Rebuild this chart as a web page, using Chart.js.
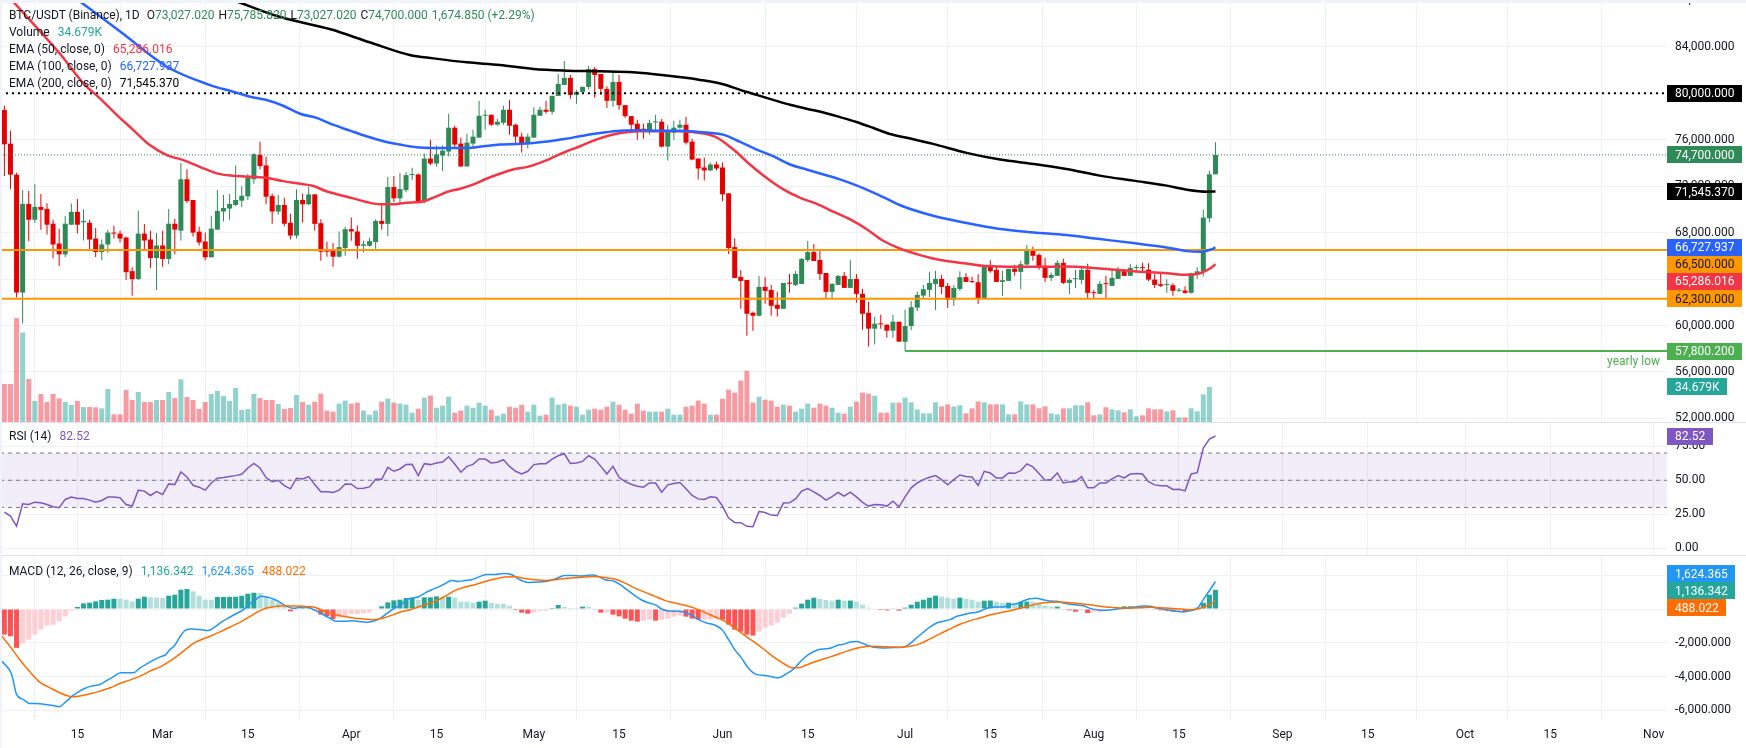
<!DOCTYPE html>
<html>
<head>
<meta charset="utf-8">
<title>BTC/USDT (Binance), 1D</title>
<script src="https://cdn.jsdelivr.net/npm/chart.js"></script>
<style>
html,body{margin:0;padding:0;background:#ffffff;overflow:hidden;}
#wrap{position:relative;width:1746px;height:748px;overflow:hidden;background:#fff;font-family:Roboto,"Liberation Sans",Arial,sans-serif;}
#wrap canvas{position:absolute;left:0;}
.lg{position:absolute;left:9px;font-size:12px;line-height:17px;color:#131722;white-space:nowrap;}
.lg .v{margin-left:8px;}
.lg .g{margin-left:4px;}
.sep{position:absolute;left:0;width:1746px;height:1px;background:#E0E3EB;}
</style>
</head>
<body>
<div id="wrap">
  <canvas id="cPrice" width="1746" height="423" style="top:0px"></canvas>
  <canvas id="cRsi" width="1746" height="133" style="top:423px"></canvas>
  <canvas id="cMacd" width="1746" height="192" style="top:556px"></canvas>
  <div class="sep" style="top:422px"></div>
  <div class="sep" style="top:555px"></div>
  <div style="position:absolute;top:0;left:0;width:1746px;height:3px;background:#F0F3FA"></div>
  <div style="position:absolute;top:0;left:0;width:2px;height:748px;background:#F0F3FA"></div>
  <div class="lg" id="lgPrice" style="top:7px"></div>
  <div class="lg" id="lgRsi" style="top:428px"></div>
  <div class="lg" id="lgMacd" style="top:563px"></div>
</div>
<script>
// ---------------- DATA ----------------
const startDay = -26;           // day offset (from Mar 1) of first candle
const tickDays = [-14,0,14,31,45,61,75,92,106,122,136,153,167,184,198,214,228,245];
const tickLabels = ['15','Mar','15','Apr','15','May','15','Jun','15','Jul','15','Aug','15','Sep','15','Oct','15','Nov'];
const priceTicks = [52000,56000,60000,64000,68000,72000,76000,80000,84000,88000];
const rsiTicks = [0,25,50,75];
const macdTicks = [-6000,-4000,-2000,0,2000];

const opens = [78562,75667,73000,62839,70473,69111,70218,70048,68770,67068,
66131,68685,69792,68900,68856,67493,66330,66982,68004,67919,
67578,64684,64003,67919,67408,65819,66897,65734,68770,68174,
72602,70814,68089,67238,65876,68260,69820,70076,70388,70757,
71126,72602,74702,73794,71154,69820,70388,68856,67749,70814,
70443,71300,68814,66443,66443,65929,66671,68300,68100,66871,
66871,67186,69014,68757,71929,70957,71671,72957,73014,70643,
74386,73957,74643,74986,77043,75671,73700,75671,76186,78071,
78157,77300,77471,78586,77300,76271,75671,76186,78071,78586,
78414,79786,80729,81329,79871,80129,80557,82100,81671,80386,
79357,80986,78986,78043,77386,76957,76700,77500,77557,75414,
76614,77043,77300,75843,74386,73614,73357,73871,73614,71386,
66757,64186,63929,61100,60843,63329,63071,61786,61443,63700,
63500,63586,65643,66329,65643,64529,62900,63500,64271,63243,
64014,62729,61100,59729,60157,60071,59557,60329,58600,59960,
61543,62580,63070,63587,64019,63414,62205,63155,64163,63780,
63731,62291,65055,64796,63760,63846,64883,64624,65257,66581,
66092,65142,64105,64278,65401,63673,63990,63932,64796,62840,
62723,63620,63414,64019,64681,64278,64950,64990,64814,63957,
63557,63486,63471,63000,63014,62814,64414,64671,69243,73027.02];

const highs = [78959,76774,73169,71665,71580,72176,71325,70530,69111,68345,
69452,70502,70899,70019,69111,68401,67408,68260,68600,68174,
67663,65024,69877,68742,68174,67976,68174,70048,69196,73992,
73453,70814,68515,68004,69452,71665,71239,71325,73794,72006,
73056,74844,75837,74560,71381,71239,71012,69622,71750,71353,
71957,71300,69157,67243,67100,68100,68500,69300,68614,67300,
67557,69157,70357,72786,72871,73129,73214,73586,73100,74814,
76014,75500,75500,78243,77214,76186,76529,76871,79357,78586,
78157,77814,78929,79443,77386,76614,76529,78814,78843,79357,
79786,81671,82786,81586,80300,80600,82357,82271,81671,80614,
81929,81586,78986,78043,77729,77386,77729,78157,77786,77300,
77643,77729,77986,76100,74386,74471,74043,74129,74043,71386,
67529,64786,63929,61200,64271,64186,63500,62900,63671,64443,
64700,65814,67271,67014,66414,64529,63671,64357,64614,65643,
64443,63157,62043,60757,60929,60100,60929,60329,61357,62119,
62925,63501,64624,64710,64364,63673,63501,64681,64508,64192,
64422,65142,65631,65055,64710,64883,65228,65574,66927,66783,
66207,65833,64537,65631,65746,64076,64796,65142,65314,63069,
63846,64278,64883,65055,64854,65314,65228,65401,65357,64414,
64500,63986,63643,63243,63386,64557,65014,69986,73329,75785.82];

const lows = [72886,71750,62442,60171,67266,68827,68260,67834,65790,65138,
65904,68685,67919,67323,66557,65904,65620,66245,67493,67153,
63917,62555,63917,66557,64939,63066,65053,65280,66131,67323,
70558,67663,66897,65620,65876,68260,68969,69111,70303,70218,
70814,72205,73453,70445,68770,69537,68543,67408,67493,68884,
70386,68157,65586,65929,65071,65871,66014,67300,65757,66300,
66786,66614,68243,67700,70643,70529,71471,72529,70529,70529,
73814,73700,73300,74557,75243,73700,73700,75243,76186,76871,
77200,77214,77300,76443,75586,74900,75243,76186,78071,78243,
78157,79786,80700,79529,79100,80000,80329,79614,79871,78743,
78843,78586,77871,76786,76014,76100,76443,76786,75329,74214,
76014,76957,75586,74243,72586,72500,73300,73357,70700,66157,
64100,61443,59129,59557,60786,61871,60843,60786,61443,62814,
63414,63586,65471,65557,63929,62300,62300,63500,63243,63243,
61957,59643,58186,58357,59729,58957,58957,58614,57800.2,59614,
61255,62349,62464,61342,62723,61514,61687,62983,63760,63673,
61860,62291,64537,63760,62551,63846,64278,63155,65142,65574,
64796,63760,63846,64278,63587,62723,63242,63587,62378,62291,
62723,62291,63414,64019,64278,64278,64710,64624,63843,63243,
63329,62814,62557,62871,62729,62757,64014,64214,68900,73027.02];

const closes = [75610,73000,62839,70473,69111,70218,69962,68685,66982,66131,
68770,69792,68685,69000,67408,66330,66982,68004,67919,67493,
64599,64003,67919,67323,65819,66897,65734,68770,68260,72602,
70729,68004,67153,65876,68345,69877,70133,70473,70814,71183,
72715,74758,73737,71097,69820,70388,68770,67749,70814,70443,
71300,68757,66357,66357,65929,66757,68300,68100,66871,67000,
67271,69014,68757,71929,70957,71757,72957,73014,70643,74386,
73957,74729,75071,77043,75586,73700,75757,76271,78071,78157,
77300,77557,78586,77214,76271,75671,76271,78157,78586,78414,
79786,80814,81329,79871,80129,80557,82100,81586,80386,79357,
80986,78986,78043,77300,76871,76786,77443,77557,75414,76786,
77043,77300,75757,74300,73529,73357,73871,73529,71300,66671,
64100,63843,61014,60843,63329,62986,61700,61443,63671,63600,
64443,65729,66329,65557,64443,62900,63586,64271,63243,64014,
62729,61014,59729,60157,60100,59557,60329,58614,59960,61572,
62637,63127,63673,64019,63328,62205,63242,64163,63760,63740,
62291,65055,64681,63760,63904,64883,64624,65286,66581,66006,
65055,64105,64364,65401,63673,63932,64019,64796,62810,62780,
63587,63560,64105,64710,64278,64969,64990,64940,63957,63500,
63414,63514,62986,63043,62814,64500,64671,69300,73025.15,74700];

// volume in thousands (K)
const volumes = [37.5,37.5,101,87,42.3,21.2,27.9,20.2,27.9,23.7,
20.2,17.3,21.2,15.4,15.4,15.1,14.1,32.7,8.3,8.3,
31.7,22.1,29.8,20.2,20.2,22.1,22.1,29.8,24,42,
25,22.1,13.5,20.2,27.9,30.8,26,21.2,33.7,12.5,
13.5,27.9,24,22.1,22.1,18.3,13.5,14.4,26.9,20.2,
17.6,20.5,28.2,11.9,10.9,18.6,21.5,18.6,19.6,11.9,
8.0,11.9,20.5,23.4,19.6,18.6,17.6,9.9,13.8,24.4,
26.3,14.7,16.7,25.3,9.9,11.9,16.7,14.7,19.6,16.7,
12.8,7.1,9.0,15.7,14.7,17.6,10.9,17.6,7.1,8.0,
24.4,17.6,18.6,16.7,15.7,8.0,12.8,13.8,12.8,15.7,
20.5,17.6,12.8,9.0,18.6,11.9,10.9,10.9,10.9,13.8,
8.0,8.0,15.7,16.7,21.5,18.6,8.0,8.0,23.4,32.1,
29.2,40.7,50.3,19.6,25.3,22.4,21.5,15.7,17.6,16.7,
10.9,13.8,18.6,14.7,18.6,16.7,14.7,9.9,9.0,15.7,
20.5,29.2,28.2,26.3,9.9,9.9,19.6,19.6,24.4,19.9,
13.1,9.3,9.3,19.9,16.0,17.9,16.0,17.0,9.3,14.1,
20.8,19.9,17.9,17.9,17.9,8.3,8.3,20.8,17.9,17.9,
14.1,16.0,9.3,8.3,14.1,14.1,17.0,17.0,19.9,7.4,
8.3,15.1,13.1,12.2,10.3,13.1,6.4,7.4,14.1,13.1,
13.1,11.2,12.2,5.4,5.4,14.1,11.2,27.6,34.679,null];

const ema50Days = [-24.8,-16.7,-12.9,-10.3,-7.5,-4.8,-2.1,0.7,3.4,6.1,8.9,11.6,14.4,17.1,19.8,22.6,24.8,26.8,29.1,31.3,33.5,35.7,37.8,40.1,42.3,44.5,46.7,48.9,51.1,53.2,55.4,57.6,59.8,62.0,64.2,66.4,68.6,70.8,73.5,75.2,78.4,81.7,85.0,88.3,91.0,93.8,96.5,99.2,102.0,104.7,107.4,110.2,112.9,115.7,118.4,121.2,123.9,126.6,129.4,132.1,134.8,137.6,143.1,148.5,154.0,159.5,165.0,168.3,170.5,172.1,173];
const ema50Vals = [88043,83302,80800,79569,78129,76837,75543,74681,74250,73673,73104,72897,72811,72725,72440,72210,72014,71586,71243,70957,70643,70443,70443,70586,70643,71014,71500,71786,72157,72643,73071,73443,73643,74014,74500,75014,75443,75929,76386,76586,76729,76729,76729,76586,76214,75157,73871,72729,71729,71014,70500,69814,69157,68300,67300,66620,66150,65775,65516,65344,65142,65084,65055,65084,64912,64682,64509,64365,64509,64912,65286.016];
const ema100Days = [-13.9,-6.6,0.7,7.8,11.6,14.4,17.1,19.8,22.6,25.4,28.0,30.8,33.5,36.3,39.0,41.7,44.5,47.2,50.0,52.7,55.4,58.2,60.9,63.6,66.4,69.1,71.9,75.2,78.4,81.7,85.0,88.3,92.1,94.9,97.6,100.3,103.1,105.8,108.6,111.3,114.0,116.8,119.5,121.5,126.6,132.1,137.6,143.1,148.5,154.0,159.5,165.0,168.3,170.5,172.1,173];
const ema100Vals = [88043,85172,82293,80715,80138,79707,79422,78931,78243,77871,77300,76786,76300,75871,75586,75357,75300,75300,75300,75443,75586,75643,75729,75871,76100,76357,76586,76786,76814,76786,76786,76671,76443,75814,75157,74586,73871,73443,73014,72586,72071,71443,70786,70300,69461,68827,68309,68021,67791,67446,67100,66726,66409,66351,66524,66727.937];
const ema200Days = [11.6,19.2,27.6,34.0,40.6,44.5,50.0,55.4,60.9,66.4,71.9,77.3,82.8,88.3,92.1,94.9,97.6,100.3,103.1,105.8,108.6,111.3,114.0,116.8,119.5,122.5,126.6,132.1,137.6,143.1,148.5,154.0,159.5,165.0,168.3,171.6,173];
const ema200Vals = [88043,86595,85517,84400,83300,83014,82671,82443,82100,81957,81900,81814,81529,81157,80786,80300,79871,79443,79014,78671,78357,77957,77529,77014,76500,76150,75650,74873,74297,73923,73491,72915,72483,72051,71706,71533,71545.37];

const levelDotted = 80000;
const levelRanges = [66500, 62300];

const rsiValues = [26.6,23.7,16.3,32.7,32.2,33.9,33.4,32.2,30.5,29.8,35.9,37.6,36.6,36.6,35.4,33.9,35.1,37.6,37.6,37.1,
32.2,31.0,42.7,42.0,38.8,41.7,39.5,47.3,46.8,56.1,52.4,46.3,44.9,42.7,48.0,51.5,52.0,52.7,53.4,54.4,
59.0,62.4,59.0,52.0,49.0,50.0,46.1,43.7,51.5,51.0,52.7,46.8,41.5,41.5,41.0,42.7,47.3,47.1,43.9,44.1,
45.1,50.7,50.7,59.5,56.6,58.3,61.5,61.7,53.4,62.2,61.5,62.7,63.4,67.3,62.0,55.9,60.2,61.7,65.6,65.6,
62.7,63.2,65.1,60.2,56.6,54.6,56.6,61.5,62.2,62.2,65.6,68.0,69.5,62.4,62.7,63.9,68.0,65.6,60.2,54.6,
60.2,52.2,49.0,47.1,45.6,44.9,48.0,48.0,41.2,46.6,47.6,48.3,43.7,38.8,36.3,35.9,37.8,37.3,31.0,22.2,
19.0,18.8,16.1,15.9,27.1,26.3,24.4,24.1,33.2,33.4,36.3,42.0,43.9,41.5,38.8,35.4,38.0,41.0,38.3,41.2,
37.8,33.7,31.0,32.2,32.0,31.0,34.6,30.5,37.8,44.4,48.0,50.5,52.2,53.4,50.5,46.6,50.5,53.9,52.7,52.4,
46.1,56.6,55.4,51.7,51.7,55.4,55.1,57.1,62.0,59.8,54.9,50.0,50.5,55.4,48.0,48.8,49.0,52.7,44.4,44.4,
48.0,48.0,51.0,53.4,51.7,54.6,54.9,54.6,49.0,46.6,45.9,45.9,43.2,43.4,42.2,54.6,55.6,73.7,80.2,82.52];
const rsiBands = [70, 50, 30];

const macdHist = [-1517,-1615,-2305,-2049,-1812,-1517,-1221,-985,-926,-729,-433,-99,118,335,374,453,532,552,611,611,
552,453,611,729,690,670,660,788,847,1143,1182,1044,788,552,540,709,715,720,725,788,
906,965,950,749,552,355,158,-138,-79,79,158,-79,-335,-433,-591,-512,-433,-296,-290,-236,
-197,-39,158,394,512,552,650,655,552,690,695,749,690,729,670,433,430,374,433,493,
374,315,310,197,-59,-217,-276,-197,-99,-95,59,236,118,59,55,138,130,-39,-217,-210,
-335,-433,-571,-690,-749,-690,-630,-690,-630,-571,-453,-394,-453,-571,-630,-625,-620,-615,-630,-926,
-1221,-1340,-1517,-1576,-1340,-1103,-985,-808,-512,-276,79,315,552,670,591,532,493,552,493,500,
433,256,79,20,-59,-79,39,-99,79,256,433,552,670,788,729,670,611,670,611,552,
433,493,500,433,374,380,315,433,440,430,315,197,138,140,-39,-79,-158,-79,-236,-197,
-190,-79,-39,39,158,160,138,79,20,-39,-79,-99,-158,-138,-177,-39,79,374,847,1136.342];

const macdDays = [-26.4,-24.8,-24.0,-22.9,-21.8,-20.7,-19.3,-18.0,-17.0,-15.8,-14.7,-13.9,-12.8,-11.7,-10.3,-9.2,-8.1,-6.9,-5.9,-4.8,-3.7,-2.6,-1.5,-0.4,0.4,1.2,2.0,2.9,3.7,4.8,6.1,7.5,8.6,9.7,11.1,12.3,13.3,14.1,15.2,16.2,17.1,18.2,19.3,20.4,21.5,22.6,23.7,24.8,25.9,27.2,28.6,30.0,31.3,32.4,33.5,34.6,35.7,36.8,37.9,39.0,40.1,40.9,42.0,43.1,44.2,45.3,46.4,47.5,48.6,49.7,50.8,51.9,53.2,54.6,56.0,57.4,58.7,60.1,61.7,63.4,65.0,66.1,67.2,68.9,70.5,71.6,72.7,74.1,75.2,76.3,77.6,78.7,79.8,80.9,82.0,83.1,84.7,86.1,87.2,88.3,89.4,90.8,91.9,93.0,94.0,95.1,96.2,97.4,99.0,100.1,101.2,102.3,103.7,104.7,106.1,107.5,108.6,109.7,110.8,111.9,113.0,114.0,115.1,116.2,117.3,118.4,120.1,121.7,122.8,123.9,125.0,126.1,127.2,128.3,129.4,130.5,131.6,132.7,133.8,134.9,136.0,137.1,138.2,139.2,140.3,141.4,142.5,143.6,144.7,145.8,146.9,148.0,149.1,150.2,151.3,152.4,153.5,154.6,155.7,156.8,157.9,159.0,160.1,161.2,162.3,163.3,164.4,165.5,166.6,167.7,168.8,169.9,171.0,172.1,173];
const macdVals = [-3093,-3881,-5063,-5358,-5595,-5595,-5654,-5713,-5792,-5457,-5122,-4925,-4708,-4570,-4472,-4236,-4019,-3782,-3782,-3782,-3487,-3251,-3034,-2837,-2738,-2403,-2147,-1615,-1261,-1182,-1221,-1281,-1064,-768,-473,-236,-39,236,532,749,709,591,394,158,39,99,118,-39,-236,-493,-729,-729,-690,-749,-788,-729,-571,-276,0,217,552,650,709,946,1143,1300,1497,1694,1635,1694,1734,1891,2049,2049,2108,2029,1734,1576,1596,1655,1852,1990,1990,1950,2009,1931,1734,1655,1438,1143,788,532,374,256,0,-118,-138,-236,-433,-670,-827,-965,-1221,-1812,-2403,-2896,-3487,-3861,-3940,-4019,-4078,-3881,-3546,-3152,-2699,-2443,-2364,-2324,-2167,-2088,-1950,-1931,-2049,-2206,-2285,-2305,-2285,-2265,-2049,-1714,-1379,-1064,-827,-729,-630,-433,-335,-236,-197,-39,99,118,118,256,315,473,611,630,552,473,453,355,276,236,197,39,-39,-79,-59,0,39,79,138,177,158,59,0,-79,-138,-177,-99,0,552,1143,1624.365];
const signalDays = [-26.4,-25.1,-23.4,-21.8,-20.2,-18.5,-16.9,-15.8,-14.7,-13.6,-11.9,-10.3,-8.6,-7.0,-5.4,-3.7,-2.1,-0.4,1.2,2.9,4.0,5.0,6.1,7.8,9.4,11.1,12.7,14.4,16.0,17.1,18.2,19.8,21.5,23.1,24.8,26.4,28.0,29.7,31.3,33.0,34.6,36.3,37.9,39.5,40.7,41.5,43.1,44.8,46.4,48.1,49.7,51.3,53.0,54.6,56.2,57.9,59.5,61.2,62.8,64.5,66.1,67.7,69.4,71.0,72.7,74.3,76.0,77.6,79.3,80.9,82.5,84.2,85.8,87.5,89.1,90.8,92.4,94.0,95.7,97.4,99.0,100.6,102.3,103.4,104.5,105.6,106.4,108.0,109.7,111.3,112.9,114.6,116.2,117.9,119.5,121.2,122.8,124.5,126.1,127.7,129.4,131.0,132.7,134.3,135.9,137.6,139.2,140.9,142.5,144.2,145.8,147.5,149.1,150.8,152.4,154.0,155.7,157.3,159.0,160.6,162.3,163.9,165.5,167.2,168.8,169.9,171.0,172.1,173];
const signalVals = [-1615,-2206,-3034,-3723,-4334,-4669,-4964,-5122,-5201,-5161,-5024,-4866,-4669,-4413,-4216,-3979,-3684,-3428,-3093,-2640,-2325,-2049,-1852,-1615,-1359,-1064,-788,-433,-99,59,138,197,177,158,118,-99,-296,-433,-532,-591,-630,-532,-335,-138,-40,59,256,453,749,1103,1300,1438,1635,1773,1891,1911,1812,1734,1694,1734,1812,1852,1891,1931,1871,1773,1537,1241,985,749,512,355,217,39,-197,-473,-729,-1123,-1576,-2009,-2443,-2896,-3290,-3487,-3487,-3349,-3231,-3034,-2837,-2640,-2443,-2285,-2206,-2226,-2246,-2265,-2206,-2049,-1773,-1478,-1182,-906,-690,-532,-355,-217,-99,39,197,335,394,414,374,315,256,158,99,59,59,79,99,79,39,0,-39,-20,118,256,488.022];

// ---------------- STYLE / CONFIG ----------------
const FONT = 'Roboto, "Liberation Sans", Arial, sans-serif';
Chart.defaults.font.family = FONT;
Chart.defaults.font.size = 12;
Chart.defaults.color = '#131722';

const VIEW_MIN = -26.72, VIEW_MAX = 247.19;
const AXIS_W = 79;
const GRID = '#EFF1F5';
const UP = '#2E8B57', DOWN = '#E60000';
const TXT = '#131722';

const fmt = (v, d) => v.toLocaleString('en-US', {minimumFractionDigits: d, maximumFractionDigits: d});
const days = opens.map((_, i) => startDay + i);
const isUp = opens.map((o, i) => closes[i] >= o);
const candleColors = isUp.map(u => u ? UP : DOWN);
const volColors = isUp.map(u => u ? 'rgba(38,166,154,0.5)' : 'rgba(242,54,69,0.5)');
const histColors = macdHist.map((h, i) => {
  const p = i > 0 ? macdHist[i - 1] : h;
  if (h >= 0) return (i > 0 && h > p) ? '#26A69A' : '#B2DFDB';
  return (i > 0 && h > p) ? '#FFCDD2' : '#FF5252';
});
const last = opens.length - 1;
const lowIdx = lows.indexOf(Math.min(...lows));
const yearlyLow = lows[lowIdx];
const lastVolIdx = volumes.map(v => v !== null).lastIndexOf(true);
const lastVol = volumes[lastVolIdx];

function zeroPad(s) { s.paddingTop = 0; s.paddingBottom = 0; s.paddingLeft = 0; s.paddingRight = 0; }
function xScale(show) {
  return {
    type: 'linear', min: VIEW_MIN, max: VIEW_MAX, bounds: 'data', offset: false,
    afterBuildTicks: s => { s.ticks = tickDays.map(v => ({value: v})); },
    afterFit: s => { s.height = show ? 27 : 0; zeroPad(s); },
    ticks: {display: show, autoSkip: false, maxRotation: 0, padding: 7, color: TXT, font: {size: 12},
      callback: (v, i) => tickLabels[i]},
    grid: {color: GRID, drawTicks: false, lineWidth: 1},
    border: {display: false}
  };
}
function yScale(min, max, ticks, dec) {
  return {
    type: 'linear', position: 'right', min, max, bounds: 'data',
    afterBuildTicks: s => { s.ticks = ticks.map(v => ({value: v})); },
    afterFit: s => { s.width = AXIS_W; zeroPad(s); },
    ticks: {autoSkip: false, padding: 8, color: TXT, font: {size: 12}, callback: v => fmt(v, dec)},
    grid: {color: GRID, drawTicks: false, lineWidth: 1},
    border: {display: false}
  };
}
function baseOptions(scales) {
  return {
    responsive: false, animation: false, devicePixelRatio: 1, events: [],
    layout: {padding: 0, autoPadding: false},
    plugins: {legend: {display: false}, tooltip: {enabled: false}},
    scales
  };
}
function lineSeries(xs, ys, color, width, order, extra) {
  return Object.assign({
    type: 'line', data: xs.map((x, i) => ({x, y: ys[i]})), borderColor: color, borderWidth: width,
    pointRadius: 0, fill: false, order
  }, extra || {});
}
function hline(v, color, width, dash, x0, order) {
  return {type: 'line', data: [{x: x0, y: v}, {x: VIEW_MAX, y: v}], borderColor: color, borderWidth: width,
    borderDash: dash, pointRadius: 0, fill: false, order};
}

function layoutBoxes(items, H, mode) {
  items.sort((a, b) => a.yn - b.yn);
  if (mode === 'down') {
    let prev = -1e9;
    items.forEach(it => { it.yc = Math.max(it.yn, prev + H); prev = it.yc; });
    return;
  }
  const groups = items.map(it => ({items: [it]}));
  const place = g => {
    const n = g.items.length;
    const c = g.items.reduce((s, it) => s + it.yn, 0) / n;
    g.items.forEach((it, j) => { it.yc = c + (j - (n - 1) / 2) * H; });
    g.top = g.items[0].yc - H / 2; g.bot = g.items[n - 1].yc + H / 2;
  };
  groups.forEach(place);
  let merged = true;
  while (merged) {
    merged = false;
    for (let i = 0; i < groups.length - 1; i++) {
      if (groups[i].bot > groups[i + 1].top + 0.01) {
        groups[i].items = groups[i].items.concat(groups[i + 1].items);
        groups.splice(i + 1, 1); place(groups[i]); merged = true; break;
      }
    }
  }
}
function boxPlugin(boxes, mode) {
  return {
    id: 'axisBoxes',
    afterDraw(chart) {
      const ctx = chart.ctx, ca = chart.chartArea, H = 17;
      ctx.save();
      ctx.font = '12px ' + FONT;
      ctx.textBaseline = 'middle';
      ctx.textAlign = 'left';
      const items = boxes.map(b => Object.assign({}, b, {yn: chart.scales[b.axis || 'y'].getPixelForValue(b.value)}));
      layoutBoxes(items, H, mode);
      items.forEach(it => {
        const w = ctx.measureText(it.text).width;
        ctx.fillStyle = it.bg;
        ctx.fillRect(ca.right, Math.round(it.yc - H / 2), Math.ceil(w + 15), H);
        ctx.fillStyle = it.fg;
        ctx.fillText(it.text, ca.right + 8, Math.round(it.yc) + 0.5);
      });
      ctx.restore();
    }
  };
}

// ---------------- PRICE PANE ----------------
const priceBoxes = [
  {value: levelDotted, text: fmt(levelDotted, 3), bg: '#000000', fg: '#ffffff'},
  {value: closes[last], text: fmt(closes[last], 3), bg: UP, fg: '#ffffff'},
  {value: ema200Vals[ema200Vals.length - 1], text: fmt(ema200Vals[ema200Vals.length - 1], 3), bg: '#000000', fg: '#ffffff'},
  {value: ema100Vals[ema100Vals.length - 1], text: fmt(ema100Vals[ema100Vals.length - 1], 3), bg: '#2962FF', fg: '#ffffff'},
  {value: levelRanges[0], text: fmt(levelRanges[0], 3), bg: '#FF9800', fg: '#131722'},
  {value: ema50Vals[ema50Vals.length - 1], text: fmt(ema50Vals[ema50Vals.length - 1], 3), bg: '#F23645', fg: '#ffffff'},
  {value: levelRanges[1], text: fmt(levelRanges[1], 3), bg: '#FF9800', fg: '#131722'},
  {value: yearlyLow, text: fmt(yearlyLow, 3), bg: '#4CAF50', fg: '#ffffff'},
  {value: lastVol, axis: 'yv', text: lastVol.toFixed(3) + 'K', bg: '#26A69A', fg: '#ffffff'}
];
const yearlyLowText = {
  id: 'yearlyLowText',
  afterDatasetsDraw(chart) {
    const ctx = chart.ctx, y = chart.scales.y.getPixelForValue(yearlyLow);
    ctx.save();
    ctx.font = '12px ' + FONT; ctx.fillStyle = '#4CAF50';
    ctx.textAlign = 'right'; ctx.textBaseline = 'middle';
    ctx.fillText('yearly low', chart.chartArea.right - 7, y + 11);
    ctx.restore();
  }
};

new Chart(document.getElementById('cPrice'), {
  type: 'line',
  data: {datasets: [
    {type: 'bar', data: volumes.map((v, i) => ({x: days[i], y: v})), yAxisID: 'yv', backgroundColor: volColors,
      barThickness: 5, grouped: false, inflateAmount: 0, borderWidth: 0, order: 100},
    {type: 'bar', data: days.map((d, i) => ({x: d, y: [lows[i], highs[i]]})), yAxisID: 'y', backgroundColor: candleColors,
      barThickness: 1, grouped: false, inflateAmount: 0, borderWidth: 0, order: 50},
    {type: 'bar', data: days.map((d, i) => ({x: d, y: [opens[i], closes[i]]})), yAxisID: 'y', backgroundColor: candleColors,
      barThickness: 5, minBarLength: 1, grouped: false, inflateAmount: 0, borderWidth: 0, order: 40},
    hline(levelDotted, '#000000', 2, [2, 4], VIEW_MIN, 30),
    hline(closes[last], UP, 1, [1, 2], VIEW_MIN, 31),
    hline(levelRanges[0], '#FF9800', 2, [], VIEW_MIN, 30),
    hline(levelRanges[1], '#FF9800', 2, [], VIEW_MIN, 30),
    hline(yearlyLow, '#4CAF50', 2, [], days[lowIdx], 30),
    lineSeries(ema200Days, ema200Vals, '#000000', 2.5, 10, {cubicInterpolationMode: 'monotone'}),
    lineSeries(ema100Days, ema100Vals, '#2962FF', 2.5, 11, {cubicInterpolationMode: 'monotone'}),
    lineSeries(ema50Days, ema50Vals, '#F23645', 2.5, 12, {cubicInterpolationMode: 'monotone'})
  ]},
  options: baseOptions({
    x: xScale(false),
    y: yScale(51603, 88043, priceTicks, 3),
    yv: {type: 'linear', display: false, min: 0, max: 406.7, bounds: 'data'}
  }),
  plugins: [yearlyLowText, boxPlugin(priceBoxes, 'down')]
});

// ---------------- RSI PANE ----------------
new Chart(document.getElementById('cRsi'), {
  type: 'line',
  data: {datasets: [
    hline(rsiBands[0], '#787B86', 1, [4, 4], VIEW_MIN, 20),
    Object.assign(hline(rsiBands[2], '#787B86', 1, [4, 4], VIEW_MIN, 20), {fill: '-1', backgroundColor: 'rgba(126,87,194,0.1)'}),
    hline(rsiBands[1], '#787B86', 1, [4, 4], VIEW_MIN, 20),
    lineSeries(days, rsiValues, '#7E57C2', 1.5, 1)
  ]},
  options: baseOptions({
    x: xScale(false),
    y: yScale(-5.7, 92.1, rsiTicks, 2)
  }),
  plugins: [boxPlugin([{value: rsiValues[last], text: fmt(rsiValues[last], 2), bg: '#7E57C2', fg: '#ffffff'}], 'center')]
});

// ---------------- MACD PANE ----------------
const macdBoxes = [
  {value: macdVals[macdVals.length - 1], text: fmt(macdVals[macdVals.length - 1], 3), bg: '#2196F3', fg: '#ffffff'},
  {value: macdHist[last], text: fmt(macdHist[last], 3), bg: '#26A69A', fg: '#ffffff'},
  {value: signalVals[signalVals.length - 1], text: fmt(signalVals[signalVals.length - 1], 3), bg: '#FF6D00', fg: '#ffffff'}
];
new Chart(document.getElementById('cMacd'), {
  type: 'line',
  data: {datasets: [
    {type: 'bar', data: macdHist.map((h, i) => ({x: days[i], y: h})), backgroundColor: histColors,
      barThickness: 5, grouped: false, inflateAmount: 0, borderWidth: 0, order: 50},
    lineSeries(macdDays, macdVals, '#2196F3', 1.5, 2, {cubicInterpolationMode: 'monotone'}),
    lineSeries(signalDays, signalVals, '#FF6D00', 1.5, 1, {cubicInterpolationMode: 'monotone'})
  ]},
  options: baseOptions({
    x: xScale(true),
    y: yScale(-6637, 3141, macdTicks, 3)
  }),
  plugins: [boxPlugin(macdBoxes, 'center')]
});

// ---------------- LEGENDS ----------------
const prevClose = closes[last - 1];
const chg = closes[last] - prevClose;
const pct = chg / prevClose * 100;
const G = s => `<span style="color:${UP}">${s}</span>`;
document.getElementById('lgPrice').innerHTML =
  `<div>BTC/USDT (Binance), 1D<span style="margin-left:7px">O</span>${G(fmt(opens[last], 3))}` +
  `<span class="g">H</span>${G(fmt(highs[last], 3))}<span class="g">L</span>${G(fmt(lows[last], 3))}` +
  `<span class="g">C</span>${G(fmt(closes[last], 3))}<span class="g"></span>${G(fmt(chg, 3) + ' (' + (pct >= 0 ? '+' : '') + pct.toFixed(2) + '%)')}</div>` +
  `<div>Volume<span class="v" style="color:#26A69A">${lastVol.toFixed(3)}K</span></div>` +
  `<div>EMA (50, close, 0)<span class="v" style="color:#F23645">${fmt(ema50Vals[ema50Vals.length - 1], 3)}</span></div>` +
  `<div>EMA (100, close, 0)<span class="v" style="color:#2962FF">${fmt(ema100Vals[ema100Vals.length - 1], 3)}</span></div>` +
  `<div>EMA (200, close, 0)<span class="v" style="color:#000000">${fmt(ema200Vals[ema200Vals.length - 1], 3)}</span></div>`;
document.getElementById('lgRsi').innerHTML =
  `RSI (14)<span class="v" style="color:#7E57C2">${fmt(rsiValues[last], 2)}</span>`;
document.getElementById('lgMacd').innerHTML =
  `MACD (12, 26, close, 9)<span class="v" style="color:#26A69A">${fmt(macdHist[last], 3)}</span>` +
  `<span class="v" style="color:#2196F3">${fmt(macdVals[macdVals.length - 1], 3)}</span>` +
  `<span class="v" style="color:#FF6D00">${fmt(signalVals[signalVals.length - 1], 3)}</span>`;
</script>
</body>
</html>
